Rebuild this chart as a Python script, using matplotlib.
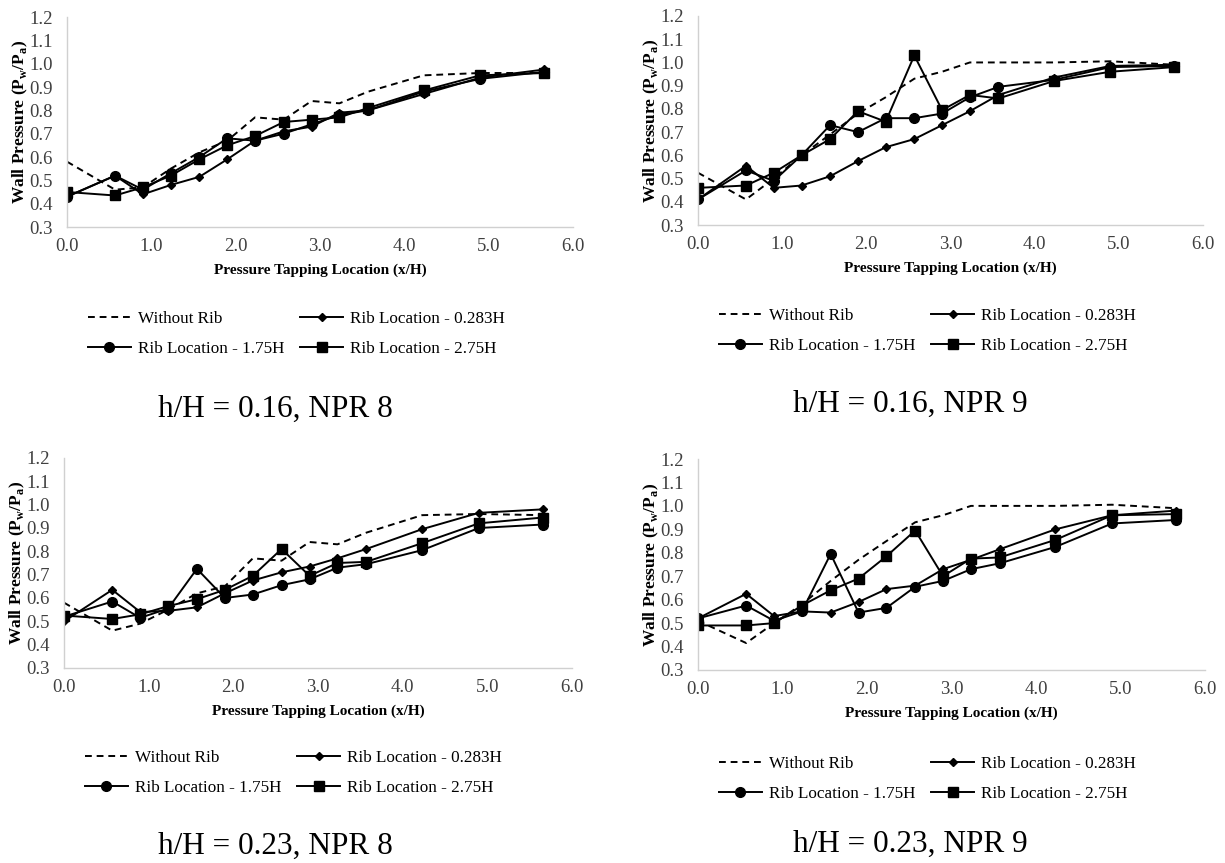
import matplotlib.pyplot as plt

plt.rcParams['font.family'] = ['Liberation Serif', 'DejaVu Serif']
plt.rcParams['mathtext.fontset'] = 'custom'
plt.rcParams['mathtext.rm'] = 'Liberation Serif'
plt.rcParams['mathtext.bf'] = 'Liberation Serif:bold'

# pressure tapping locations (x/H)
x_loc = [0.0, 0.57, 0.9, 1.23, 1.57, 1.9, 2.23, 2.57, 2.9, 3.23, 3.57, 4.23, 4.9, 5.66]

series_labels = ['Without Rib', 'Rib Location - 0.283H', 'Rib Location - 1.75H', 'Rib Location - 2.75H']
panel_titles = ['h/H = 0.16, NPR 8', 'h/H = 0.16, NPR 9', 'h/H = 0.23, NPR 8', 'h/H = 0.23, NPR 9']

# h/H = 0.16, NPR 8
a_no_rib = [0.58, 0.46, 0.47, 0.55, 0.62, 0.67, 0.77, 0.76, 0.84, 0.83, 0.88, 0.95, 0.96, 0.96]
a_rib_0283 = [0.43, 0.52, 0.44, 0.48, 0.515, 0.59, 0.67, 0.71, 0.73, 0.79, 0.80, 0.87, 0.94, 0.975]
a_rib_175 = [0.43, 0.52, 0.46, 0.53, 0.60, 0.68, 0.67, 0.70, 0.74, 0.78, 0.80, 0.88, 0.935, 0.965]
a_rib_275 = [0.45, 0.435, 0.47, 0.52, 0.59, 0.65, 0.69, 0.75, 0.76, 0.77, 0.81, 0.885, 0.95, 0.96]

# h/H = 0.16, NPR 9
b_no_rib = [0.525, 0.41, 0.50, 0.60, 0.69, 0.78, 0.85, 0.93, 0.96, 1.0, 1.0, 1.0, 1.005, 0.99]
b_rib_0283 = [0.41, 0.555, 0.46, 0.47, 0.51, 0.575, 0.635, 0.67, 0.73, 0.79, 0.86, 0.935, 0.985, 0.99]
b_rib_175 = [0.41, 0.535, 0.49, 0.60, 0.73, 0.70, 0.76, 0.76, 0.78, 0.85, 0.895, 0.925, 0.98, 0.985]
b_rib_275 = [0.46, 0.47, 0.525, 0.60, 0.67, 0.79, 0.745, 1.03, 0.795, 0.86, 0.845, 0.92, 0.96, 0.98]

# h/H = 0.23, NPR 8
c_no_rib = [0.58, 0.46, 0.49, 0.55, 0.62, 0.65, 0.77, 0.76, 0.84, 0.83, 0.88, 0.955, 0.96, 0.955]
c_rib_0283 = [0.50, 0.635, 0.54, 0.545, 0.56, 0.62, 0.675, 0.71, 0.735, 0.77, 0.81, 0.895, 0.965, 0.98]
c_rib_175 = [0.52, 0.585, 0.515, 0.555, 0.725, 0.60, 0.615, 0.655, 0.68, 0.73, 0.745, 0.805, 0.90, 0.915]
c_rib_275 = [0.525, 0.51, 0.53, 0.565, 0.595, 0.635, 0.695, 0.81, 0.695, 0.75, 0.755, 0.835, 0.92, 0.945]

# h/H = 0.23, NPR 9
d_no_rib = [0.51, 0.415, 0.50, 0.58, 0.68, 0.77, 0.85, 0.93, 0.96, 1.0, 1.0, 1.0, 1.005, 0.99]
d_rib_0283 = [0.52, 0.625, 0.53, 0.55, 0.545, 0.59, 0.645, 0.66, 0.73, 0.77, 0.815, 0.90, 0.96, 0.98]
d_rib_175 = [0.52, 0.575, 0.51, 0.55, 0.795, 0.545, 0.565, 0.655, 0.68, 0.73, 0.755, 0.825, 0.925, 0.94]
d_rib_275 = [0.49, 0.49, 0.50, 0.575, 0.64, 0.69, 0.785, 0.895, 0.70, 0.775, 0.78, 0.855, 0.96, 0.965]

panels = [
    (a_no_rib, a_rib_0283, a_rib_175, a_rib_275),
    (b_no_rib, b_rib_0283, b_rib_175, b_rib_275),
    (c_no_rib, c_rib_0283, c_rib_175, c_rib_275),
    (d_no_rib, d_rib_0283, d_rib_175, d_rib_275),
]

W, H = 1225, 863
# axes boxes in pixels: left, top, right, bottom
boxes = [(67, 17, 573, 227), (698, 16, 1203, 225), (64, 458, 572, 668), (698, 459, 1205, 670)]
legend_tops = [(88, 311), (719, 308), (85, 750), (719, 756)]
title_pos = [(275, 409), (910, 404), (275, 846), (910, 844)]

fig = plt.figure(figsize=(W / 100, H / 100), dpi=100)
fig.patch.set_facecolor('white')

for i, data in enumerate(panels):
    l, t, r, b = boxes[i]
    ax = fig.add_axes([l / W, 1 - b / H, (r - l) / W, (b - t) / H])
    no_rib, r0283, r175, r275 = data
    h1, = ax.plot(x_loc, no_rib, color='black', lw=1.4, ls=(0, (3.5, 2.5)), label=series_labels[0])
    h2, = ax.plot(x_loc, r0283, color='black', lw=1.4, marker='D', ms=4.5, label=series_labels[1])
    h3, = ax.plot(x_loc, r175, color='black', lw=1.4, marker='o', ms=7, label=series_labels[2])
    h4, = ax.plot(x_loc, r275, color='black', lw=1.4, marker='s', ms=7.5, label=series_labels[3])

    ax.set_xlim(0, 6)
    ax.set_ylim(0.3, 1.2)
    ax.set_xticks([0, 1, 2, 3, 4, 5, 6])
    ax.set_yticks([0.3, 0.4, 0.5, 0.6, 0.7, 0.8, 0.9, 1.0, 1.1, 1.2])
    ax.xaxis.set_major_formatter(plt.FormatStrFormatter('%.1f'))
    ax.yaxis.set_major_formatter(plt.FormatStrFormatter('%.1f'))
    ax.tick_params(length=0, labelsize=13.5, colors='#404040')
    ax.tick_params(axis='x', pad=8)
    ax.tick_params(axis='y', pad=10)
    for s in ['top', 'right']:
        ax.spines[s].set_visible(False)
    for s in ['left', 'bottom']:
        ax.spines[s].set_color('#d0d0d0')
        ax.spines[s].set_linewidth(1.0)

    ax.set_xlabel('Pressure Tapping Location (x/H)', fontsize=11, fontweight='bold', labelpad=6)
    ax.set_ylabel(r'Wall Pressure (P$_\mathbf{w}$/P$_\mathbf{a}$)', fontsize=12.5, fontweight='bold', labelpad=0)

    # legend fills column-wise, so order handles to get the reference's rows
    lx, ly = legend_tops[i]
    fig.legend(handles=[h1, h3, h2, h4], loc='upper left', bbox_to_anchor=(lx / W, 1 - ly / H),
               ncol=2, frameon=False, fontsize=12.3, handlelength=2.5, handletextpad=0.4,
               columnspacing=0.95, labelspacing=0.8, borderpad=0, borderaxespad=0)

    tx, ty = title_pos[i]
    fig.text(tx / W, 1 - ty / H, panel_titles[i], fontsize=22.5, ha='center', va='center')

fig.savefig('out.png', dpi=100)
